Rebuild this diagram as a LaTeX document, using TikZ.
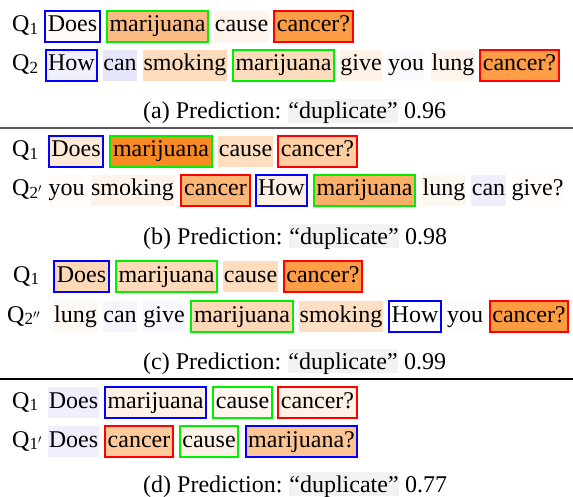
\documentclass[tikz,border=0pt]{standalone}
\usepackage{fontspec}
\setmainfont{Liberation Serif}
\definecolor{bblue}{HTML}{0000FF}
\definecolor{bgreen}{HTML}{00EE00}
\definecolor{bred}{HTML}{FF0000}
\definecolor{dupgray}{HTML}{F2F2F2}
\newcommand\qs[1]{\raisebox{-0.11em}{\fontsize{17}{17}\selectfont #1}}
% name, x1, x2, top, fill hex, border, text
\newcommand\wb[7]{\definecolor{f#1}{HTML}{#5}%
  \node[wbox,fill=f#1,draw=#6,minimum width={(#3-#2)*1pt}] (#1) at ({(#2+#3)/2},{#4+21}) {#7};}
\begin{document}
\begin{tikzpicture}[x=1pt,y=-1pt,font=\fontsize{24}{28}\selectfont,
  wbox/.style={anchor=base,inner xsep=0pt,inner ysep=0pt,text height=21pt,text depth=10pt,line width=1.5pt},
  qlab/.style={anchor=base west,inner sep=0pt},
  captxt/.style={anchor=base west,inner sep=0pt},
  dup/.style={anchor=base,fill=dupgray,inner xsep=0pt,inner ysep=0pt,text height=20pt,text depth=4pt,minimum width=110pt},
  rulea/.style={line width=1.3pt,black!65},
  ruleb/.style={line width=1.1pt,black}]
\useasboundingbox (0,0) rectangle (573,497);
% ---------------- (a)
\node[qlab] (qa1) at (12,32) {Q\qs{1}};
\wb{a1}{45}{100}{11}{FFFAF6}{bblue}{Does}
\wb{a2}{107}{208}{11}{FDBB84}{bgreen}{marijuana}
\wb{a3}{214}{269}{11}{FEF4EC}{none}{cause}
\wb{a4}{274}{353}{11}{FD9D45}{bred}{cancer?}
\node[qlab] (qa2) at (12,71) {Q\qs{2}};
\wb{b1}{46}{97}{50}{F1F1FC}{bblue}{How}
\wb{b2}{103}{137}{50}{E6E6FA}{none}{can}
\wb{b3}{143}{227}{50}{FDDCBD}{none}{smoking}
\wb{b4}{233}{334}{50}{FDDCBD}{bgreen}{marijuana}
\wb{b5}{340}{382}{50}{FEF1E6}{none}{give}
\wb{b6}{388}{424}{50}{FAFAFE}{none}{you}
\wb{b7}{431}{475}{50}{FEF4EC}{none}{lung}
\wb{b8}{480}{559}{50}{FD9D45}{bred}{cancer?}
\node[captxt] (capa) at (143,119) {(a) Prediction:};
\node[dup] (dupa) at (343,119) {“duplicate”};
\node[captxt] (numa) at (404,119) {0.96};
\coordinate (r1l) at (0,128);
\coordinate (r1r) at (573,128);
\draw[rulea] (r1l) -- (r1r);
% ---------------- (b)
\node[qlab] (qb1) at (12,157) {Q\qs{1}};
\wb{c1}{49}{103}{136}{FEEAD8}{bblue}{Does}
\wb{c2}{110}{212}{136}{F98B22}{bgreen}{marijuana}
\wb{c3}{218}{273}{136}{FDDEC0}{none}{cause}
\wb{c4}{278}{357}{136}{FDCFA3}{bred}{cancer?}
\node[qlab] (qb2) at (12,196) {Q\qs{2$'$}};
\wb{d1}{48}{85}{175}{FFFCF9}{none}{you}
\wb{d2}{91}{174}{175}{FEF4EC}{none}{smoking}
\wb{d3}{181}{250}{175}{FDB676}{bred}{cancer}
\wb{d4}{256}{307}{175}{FEF0E4}{bblue}{How}
\wb{d5}{314}{415}{175}{FDAF68}{bgreen}{marijuana}
\wb{d6}{422}{466}{175}{FEF7F0}{none}{lung}
\wb{d7}{471}{506}{175}{EEEEFC}{none}{can}
\wb{d8}{512}{563}{175}{FFFCFA}{none}{give?}
\node[captxt] (capb) at (143,244) {(b) Prediction:};
\node[dup] (dupb) at (344,244) {“duplicate”};
\node[captxt] (numb) at (405,244) {0.98};
% ---------------- (c)
\node[qlab] (qc1) at (13,282) {Q\qs{1}};
\wb{e1}{54}{109}{261}{FDD8B7}{bblue}{Does}
\wb{e2}{116}{217}{261}{FDDABA}{bgreen}{marijuana}
\wb{e3}{223}{278}{261}{FEDCBE}{none}{cause}
\wb{e4}{284}{362}{261}{FD9D45}{bred}{cancer?}
\node[qlab] (qc2) at (7,322) {Q\qs{2$''$}};
\wb{g1}{53}{98}{301}{FFF9F3}{none}{lung}
\wb{g2}{103}{137}{301}{F5F5FD}{none}{can}
\wb{g3}{143}{185}{301}{F7F7FE}{none}{give}
\wb{g4}{191}{293}{301}{FDD9B8}{bgreen}{marijuana}
\wb{g5}{299}{383}{301}{FEDFC3}{none}{smoking}
\wb{g6}{389}{441}{301}{FFFFFF}{bblue}{How}
\wb{g7}{446}{484}{301}{FFFDFB}{none}{you}
\wb{g8}{490}{568}{301}{FD9B40}{bred}{cancer?}
\node[captxt] (capc) at (143,369) {(c) Prediction:};
\node[dup] (dupc) at (343,369) {“duplicate”};
\node[captxt] (numc) at (404,369) {0.99};
\coordinate (r2l) at (0,379);
\coordinate (r2r) at (573,379);
\draw[ruleb] (r2l) -- (r2r);
% ---------------- (d)
\node[qlab] (qd1) at (12,408) {Q\qs{1}};
\wb{h1}{48}{99}{387}{EEEEFC}{none}{Does}
\wb{h2}{105}{206}{387}{FEF1E6}{bblue}{marijuana}
\wb{h3}{213}{272}{387}{FEF6EF}{bgreen}{cause}
\wb{h4}{278}{357}{387}{FEF1E6}{bred}{cancer?}
\node[qlab] (qd2) at (12,447) {Q\qs{1$'$}};
\wb{k1}{48}{99}{426}{EEEEFC}{none}{Does}
\wb{k2}{105}{173}{426}{FDCA9C}{bred}{cancer}
\wb{k3}{180}{238}{426}{FEF2E6}{bgreen}{cause}
\wb{k4}{246}{357}{426}{FDC594}{bblue}{marijuana?}
\node[captxt] (capd) at (143,492) {(d) Prediction:};
\node[dup] (dupd) at (344,492) {“duplicate”};
\node[captxt] (numd) at (405,492) {0.77};
\end{tikzpicture}
\end{document}
